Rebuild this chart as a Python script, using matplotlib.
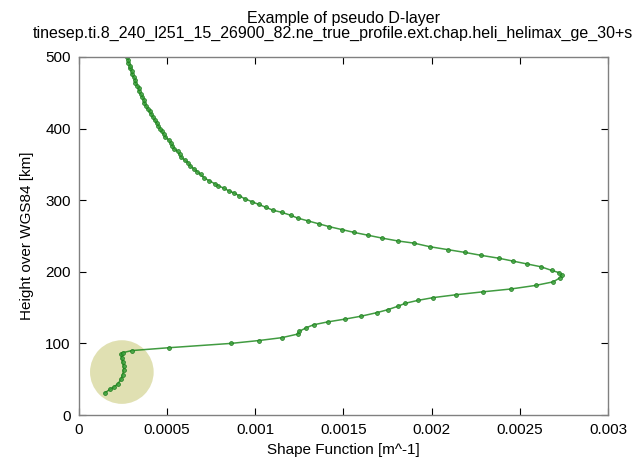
#!/usr/bin/env python3
"""Pseudo D-layer shape function profile (height vs. shape function)."""

import matplotlib
matplotlib.use("Agg")
import matplotlib.pyplot as plt

# profile values, bottom to top
height_km = [
    31, 36, 39.5, 44, 50, 56, 63, 68, 74, 80, 85, 87, 90, 94, 100, 104,
    108, 113, 117, 122, 126, 130, 134, 138, 143, 147, 152, 156, 160, 164,
    168, 172, 176, 181, 186, 192, 195, 199, 202, 207, 211, 215, 219, 223,
    227, 231, 235, 240, 243, 247, 251, 255, 259, 263, 267, 271, 275, 279,
    283, 286, 290, 294, 298, 302, 306, 310, 313, 317, 320, 323, 327, 331,
    336, 340, 344, 348, 352, 356, 360, 364, 368, 372, 376, 380, 384, 388,
    392, 396, 400, 404, 408, 412, 416, 420, 424, 428, 432, 436, 440, 444,
    448, 452, 456, 460, 464, 468, 472, 476, 480, 484, 488, 492, 496, 500,
    504,
]
shape_fn = [
    0.000147, 0.000177, 0.000200, 0.000222, 0.000238, 0.000247, 0.000253,
    0.000253, 0.000247, 0.000242, 0.000238, 0.000247, 0.000300, 0.000511,
    0.000862, 0.00102, 0.00115, 0.00124, 0.00125, 0.00129, 0.00133,
    0.00141, 0.00151, 0.00160, 0.00169, 0.00175, 0.00181, 0.00185,
    0.00192, 0.00201, 0.00214, 0.00229, 0.00245, 0.00259, 0.00269,
    0.00273, 0.00274, 0.00272, 0.00268, 0.00262, 0.00254, 0.00246,
    0.00238, 0.00228, 0.00219, 0.00209, 0.00199, 0.00190, 0.00181,
    0.00172, 0.00164, 0.00156, 0.00149, 0.00142, 0.00136, 0.00130,
    0.00124, 0.00120, 0.00115, 0.00110, 0.00106, 0.00102, 0.00098,
    0.00094, 0.00091, 0.00088, 0.00085, 0.00082, 0.00079, 0.00077,
    0.00074, 0.00071, 0.00069, 0.00067, 0.00065, 0.00063, 0.00062,
    0.00060, 0.00058, 0.00057, 0.00056, 0.00054, 0.00053, 0.00052,
    0.00051, 0.00049, 0.00048, 0.00047, 0.00046, 0.00045, 0.00044,
    0.00043, 0.00042, 0.00041, 0.00040, 0.00039, 0.00038, 0.00037,
    0.00037, 0.00036, 0.00035, 0.00034, 0.00034, 0.00033, 0.00032,
    0.00032, 0.00031, 0.00030, 0.00030, 0.00029, 0.00029, 0.00028,
    0.00028, 0.00027, 0.00026,
]

# highlighted D-layer region
highlight_x = [0.000243]
highlight_h = [60]

x_ticks = [0, 0.0005, 0.001, 0.0015, 0.002, 0.0025, 0.003]
x_tick_labels = ["0", "0.0005", "0.001", "0.0015", "0.002", "0.0025", "0.003"]
y_ticks = [0, 100, 200, 300, 400, 500]

title_text = ("Example of pseudo D-layer\n"
              "tinesep.ti.8_240_l251_15_26900_82.ne_true_profile.ext.chap."
              "heli_helimax_ge_30+sNe")

plt.rcParams["font.family"] = ["Liberation Sans", "DejaVu Sans"]

fig = plt.figure(figsize=(6.32, 4.62), dpi=100)
ax = fig.add_axes([0.125, 0.1017, 0.837, 0.775])

ax.scatter(highlight_x, highlight_h, s=2100, color="#bbbb55", alpha=0.45,
           edgecolors="none", zorder=1)
ax.plot(shape_fn, height_km, color="#1f8a1f", lw=1.1, marker="o",
        markersize=2.8, markerfacecolor="#3aa03a", markeredgecolor="#1a7a1a",
        markeredgewidth=0.6, alpha=0.85, zorder=2)

ax.set_xlim(0, 0.003)
ax.set_ylim(0, 500)
ax.set_xticks(x_ticks)
ax.set_xticklabels(x_tick_labels)
ax.set_yticks(y_ticks)
ax.tick_params(direction="in", top=True, right=True, length=5,
               labelsize=11, pad=6)
for spine in ax.spines.values():
    spine.set_color("#808080")
    spine.set_linewidth(1.0)

ax.set_xlabel("Shape Function [m^-1]", fontsize=11, labelpad=4)
ax.set_ylabel("Height over WGS84 [km]", fontsize=11, labelpad=8)
ax.set_title(title_text, fontsize=11.5, linespacing=1.0, pad=14)

fig.savefig("out.png", dpi=100)
